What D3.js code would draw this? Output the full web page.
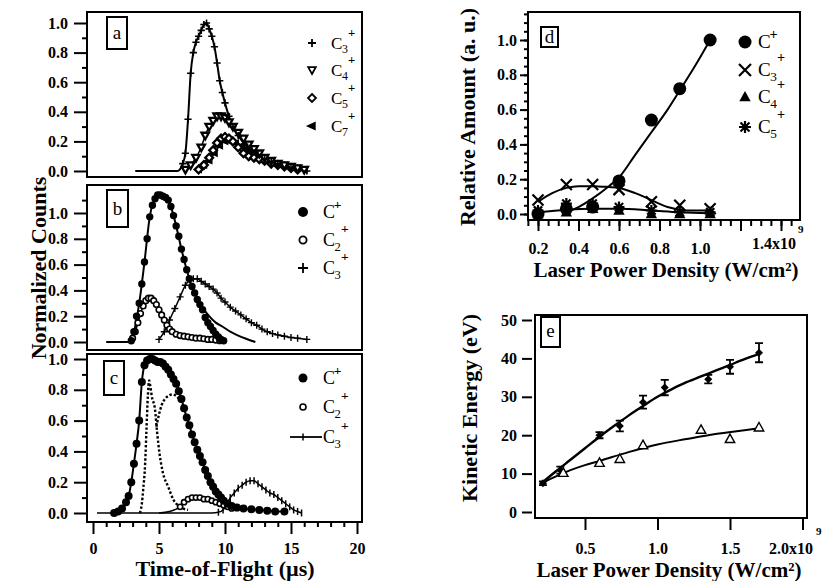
<!DOCTYPE html>
<html>
<head>
<meta charset="utf-8">
<script src="https://cdn.jsdelivr.net/npm/d3@7"></script>
<style>
  body { margin: 0; background: #fff; }
  svg { display: block; }
  text { font-family: "Liberation Serif", "Tinos", "DejaVu Serif", "Noto Serif", serif; fill: #000; }
</style>
</head>
<body>
<svg id="fig" width="828" height="581"></svg>
<script>
// ---- panel a : time-of-flight, C3+ C4+ C5+ C7+ ----
const aC3t = [3.2, 5.0, 6.4, 6.8, 7.0, 7.2, 7.4, 7.6, 7.8, 8.0, 8.2, 8.4, 8.6, 8.8, 9.0, 9.2, 9.4, 9.6, 9.8, 10.0, 10.3, 10.6, 11.0, 11.5, 12.0, 12.5, 13.0, 13.5, 14.0, 15.0, 16.2];
const aC3v = [0, 0, 0, 0.05, 0.12, 0.35, 0.66, 0.8, 0.87, 0.91, 0.95, 0.99, 1.0, 0.96, 0.91, 0.84, 0.73, 0.61, 0.53, 0.46, 0.37, 0.3, 0.24, 0.18, 0.14, 0.11, 0.08, 0.06, 0.05, 0.02, 0.0];
const aC4t = [7.0, 7.4, 7.8, 8.2, 8.5, 8.8, 9.1, 9.4, 9.7, 10.0, 10.3, 10.6, 11.0, 11.4, 11.8, 12.2, 12.6, 13.0, 13.5, 14.0, 14.5, 15.0, 15.5, 16.0];
const aC4v = [0.01, 0.04, 0.09, 0.16, 0.24, 0.3, 0.34, 0.37, 0.37, 0.36, 0.33, 0.3, 0.26, 0.22, 0.18, 0.15, 0.12, 0.09, 0.07, 0.05, 0.04, 0.03, 0.02, 0.01];
const aC5t = [8.0, 8.4, 8.8, 9.1, 9.4, 9.7, 10.0, 10.3, 10.6, 11.0, 11.4, 11.8, 12.2, 12.6, 13.0, 13.5, 14.0, 14.5, 15.0, 15.5];
const aC5v = [0.01, 0.04, 0.09, 0.14, 0.19, 0.22, 0.23, 0.22, 0.2, 0.16, 0.12, 0.1, 0.09, 0.08, 0.07, 0.05, 0.04, 0.03, 0.02, 0.01];
const aC7t = [8.0, 8.4, 8.8, 9.2, 9.6, 10.0, 10.4, 10.8, 11.2, 11.6, 12.0, 12.5, 13.0, 13.5, 14.0, 14.5, 15.0, 15.5, 16.0];
const aC7v = [0.01, 0.04, 0.07, 0.12, 0.17, 0.2, 0.2, 0.19, 0.17, 0.15, 0.13, 0.11, 0.09, 0.07, 0.05, 0.04, 0.03, 0.02, 0.01];

// ---- panel b : C+ C2+ C3+ ----
const bC1t = [2.9, 3.1, 3.3, 3.5, 3.7, 3.9, 4.1, 4.3, 4.5, 4.7, 4.9, 5.1, 5.3, 5.5, 5.7, 5.9, 6.1, 6.3, 6.5, 6.7, 6.9, 7.1, 7.3, 7.5, 7.7, 7.9, 8.1, 8.3, 8.5, 8.7, 8.9, 9.1, 9.3, 9.5, 9.7, 9.9];
const bC1v = [0.01, 0.08, 0.2, 0.3, 0.45, 0.62, 0.8, 0.97, 1.06, 1.11, 1.14, 1.14, 1.13, 1.12, 1.1, 1.05, 0.98, 0.9, 0.82, 0.72, 0.64, 0.56, 0.49, 0.43, 0.38, 0.33, 0.29, 0.25, 0.19, 0.15, 0.12, 0.09, 0.06, 0.04, 0.02, 0.01];
const bC1fitT = [1.0, 2.8, 3.1, 3.5, 3.9, 4.3, 4.7, 5.1, 5.5, 5.9, 6.3, 6.7, 7.1, 7.5, 7.9, 8.3, 8.8, 9.3, 9.8, 10.4, 11.0, 11.6, 12.3];
const bC1fitV = [0, 0, 0.08, 0.3, 0.62, 0.97, 1.11, 1.14, 1.12, 1.05, 0.9, 0.72, 0.56, 0.43, 0.34, 0.27, 0.2, 0.15, 0.12, 0.08, 0.05, 0.025, 0.0];
const bC2t = [3.0, 3.2, 3.4, 3.6, 3.8, 4.0, 4.2, 4.4, 4.6, 4.8, 5.0, 5.2, 5.4, 5.6, 5.8, 6.0, 6.3, 6.6, 6.9, 7.2, 7.5, 7.8, 8.1, 8.4, 8.7, 9.0, 9.3, 9.6];
const bC2v = [0.03, 0.08, 0.15, 0.22, 0.28, 0.32, 0.34, 0.34, 0.32, 0.29, 0.25, 0.21, 0.17, 0.13, 0.1, 0.08, 0.06, 0.05, 0.045, 0.04, 0.035, 0.03, 0.03, 0.025, 0.02, 0.02, 0.015, 0.01];
const bC3t = [5.0, 5.4, 5.8, 6.2, 6.6, 7.0, 7.3, 7.6, 7.9, 8.2, 8.5, 8.8, 9.1, 9.4, 9.7, 10.0, 10.4, 10.8, 11.2, 11.6, 12.0, 12.4, 12.8, 13.2, 13.6, 14.0, 14.5, 15.0, 15.5, 16.2];
const bC3v = [0.02, 0.08, 0.17, 0.26, 0.35, 0.44, 0.48, 0.49, 0.49, 0.47, 0.45, 0.43, 0.41, 0.38, 0.34, 0.31, 0.27, 0.24, 0.21, 0.18, 0.15, 0.13, 0.1, 0.08, 0.065, 0.055, 0.045, 0.035, 0.03, 0.02];

// ---- panel c : C+ C2+ C3+ and two dotted traces ----
const cC1t = [1.6, 1.9, 2.2, 2.5, 2.7, 2.9, 3.1, 3.3, 3.5, 3.7, 3.9, 4.1, 4.3, 4.5, 4.7, 4.9, 5.1, 5.3, 5.5, 5.7, 5.9, 6.1, 6.3, 6.5, 6.7, 6.9, 7.1, 7.3, 7.5, 7.7, 7.9, 8.1, 8.3, 8.5, 8.7, 8.9, 9.1, 9.3, 9.5, 9.7, 9.9, 10.2, 10.5, 10.9, 11.4, 12.0, 12.6, 13.2, 13.8, 14.5];
const cC1v = [0.0, 0.01, 0.03, 0.07, 0.11, 0.2, 0.32, 0.45, 0.6, 0.85, 0.96, 0.99, 1.0, 1.0, 0.99, 0.98, 0.98, 0.97, 0.95, 0.93, 0.9, 0.87, 0.84, 0.79, 0.74, 0.68, 0.62, 0.57, 0.51, 0.46, 0.41, 0.37, 0.33, 0.28, 0.24, 0.2, 0.17, 0.14, 0.12, 0.1, 0.08, 0.06, 0.045, 0.035, 0.03, 0.025, 0.02, 0.015, 0.01, 0.01];
const cC2t = [5.0, 5.8, 6.3, 6.6, 6.9, 7.2, 7.5, 7.8, 8.1, 8.4, 8.7, 9.0, 9.3, 9.6, 9.9, 10.2, 10.5];
const cC2v = [0.0, 0.01, 0.025, 0.04, 0.07, 0.09, 0.1, 0.1, 0.1, 0.09, 0.09, 0.08, 0.07, 0.06, 0.05, 0.04, 0.03];
const cC3t = [0.3, 9.0, 9.5, 9.85, 10.1, 10.4, 10.7, 11.0, 11.3, 11.6, 11.9, 12.2, 12.5, 12.8, 13.1, 13.4, 13.7, 14.0, 14.3, 14.6, 14.9, 15.2, 15.5, 15.8];
const cC3v = [0, 0, 0.005, 0.02, 0.05, 0.1, 0.13, 0.16, 0.18, 0.2, 0.21, 0.21, 0.19, 0.17, 0.15, 0.13, 0.12, 0.1, 0.08, 0.06, 0.04, 0.02, 0.01, 0.0];
const cDot1t = [3.55, 3.7, 3.8, 3.95, 4.05, 4.15, 4.25, 4.35, 4.45, 4.7, 4.85, 5.05, 5.3, 5.7, 6.1, 6.6, 7.2];
const cDot1v = [0.0, 0.06, 0.15, 0.32, 0.54, 0.75, 0.86, 0.82, 0.76, 0.67, 0.53, 0.38, 0.26, 0.17, 0.085, 0.04, 0.02];
const cDot2t = [4.8, 5.0, 5.2, 5.45, 5.7, 6.0, 6.3, 6.6, 6.85];
const cDot2v = [0.56, 0.64, 0.7, 0.74, 0.76, 0.77, 0.76, 0.73, 0.69];

// ---- panel d : relative amount vs power density ----
const dPower = [0.2, 0.34, 0.47, 0.6, 0.76, 0.9, 1.05];
const dC1 = [0.0, 0.03, 0.04, 0.19, 0.54, 0.72, 1.0];
const dC3 = [0.08, 0.17, 0.17, 0.14, 0.07, 0.05, 0.03];
const dC4 = [0.0, 0.01, 0.03, 0.02, 0.0, 0.0, 0.0];
const dC5 = [0.02, 0.06, 0.06, 0.04, 0.02, 0.01, 0.01];
const dC1fitX = [0.34, 0.4, 0.47, 0.55, 0.6, 0.68, 0.76, 0.84, 0.9, 0.97, 1.05];
const dC1fitY = [0.01, 0.04, 0.09, 0.16, 0.21, 0.34, 0.47, 0.6, 0.71, 0.84, 1.0];
const dC3fitX = [0.2, 0.27, 0.34, 0.4, 0.47, 0.55, 0.6, 0.68, 0.76, 0.84, 0.9, 0.97, 1.05];
const dC3fitY = [0.07, 0.12, 0.15, 0.16, 0.16, 0.155, 0.15, 0.12, 0.08, 0.04, 0.025, 0.02, 0.02];
const dC5fitX = [0.2, 0.34, 0.47, 0.6, 0.76, 0.9, 1.05];
const dC5fitY = [0.01, 0.025, 0.03, 0.03, 0.02, 0.01, 0.005];

// ---- panel e : kinetic energy vs power density ----
const e1x = [0.21, 0.33, 0.6, 0.74, 0.9, 1.05, 1.35, 1.5, 1.7];
const e1y = [7.5, 10.9, 20, 22.4, 28.6, 32.4, 34.6, 37.8, 41.5];
const e1err = [0.5, 0.9, 0.8, 1.4, 1.7, 2.0, 1.1, 1.8, 2.5];
const e2x = [0.35, 0.6, 0.74, 0.9, 1.3, 1.5, 1.7];
const e2y = [10.2, 12.8, 13.8, 17.4, 21.4, 19, 22];
const e1fitX = [0.2, 0.3, 0.4, 0.5, 0.6, 0.7, 0.8, 0.9, 1.0, 1.1, 1.2, 1.3, 1.4, 1.5, 1.6, 1.7];
const e1fitY = [7.5, 10.6, 13.6, 16.6, 19.6, 22.4, 25.1, 27.6, 30, 32, 33.8, 35.3, 36.8, 38.3, 39.8, 41.2];
const e2fitX = [0.2, 0.3, 0.4, 0.5, 0.6, 0.8, 1.0, 1.2, 1.4, 1.6, 1.7];
const e2fitY = [7.5, 9.3, 10.9, 12.2, 13.3, 15.6, 17.6, 19.0, 20.3, 21.3, 21.8];

// legend subscripts ("" = bare C+)
const legA = ["3", "4", "5", "7"];
const legB = ["", "2", "3"];
const legC = ["", "2", "3"];
const legD = ["", "3", "4", "5"];

const FONT = "Liberation Serif, Tinos, DejaVu Serif, Noto Serif, serif";
const TICK = 16;
const svg = d3.select("#fig");
const px = d3.scaleIdentity();

const tof = d3.scaleLinear().domain([0, 20]).range([93, 357]);
const yA = d3.scaleLinear().domain([0, 1]).range([171, 23]);
const yB = d3.scaleLinear().domain([0, 1]).range([342, 213]);
const yC = d3.scaleLinear().domain([0, 1]).range([513, 359]);
const xD = d3.scaleLinear().domain([0.2, 1.4]).range([538, 781]);
const yD = d3.scaleLinear().domain([0, 1]).range([214, 40]);
const xE = d3.scaleLinear().domain([0, 2]).range([512.5, 802.5]);
const yE = d3.scaleLinear().domain([0, 50]).range([512, 320]);

const shapes = {
  plus: s => `M${-s},0H${s}M0,${-s}V${s}`,
  cross: s => `M${-s},${-s}L${s},${s}M${-s},${s}L${s},${-s}`,
  star: s => `M${-s},0H${s}M0,${-s}V${s}M${-s * 0.75},${-s * 0.75}L${s * 0.75},${s * 0.75}M${-s * 0.75},${s * 0.75}L${s * 0.75},${-s * 0.75}`,
  tick: s => `M0,${-s}V${s}`,
  triUp: s => `M0,${-s}L${s * 0.95},${s * 0.7}L${-s * 0.95},${s * 0.7}Z`,
  triDown: s => `M0,${s}L${s * 0.95},${-s * 0.7}L${-s * 0.95},${-s * 0.7}Z`,
  triLeft: s => `M${-s},0L${s * 0.7},${-s * 0.75}L${s * 0.7},${s * 0.75}Z`,
  diamond: s => `M0,${-s}L${s},0L0,${s}L${-s},0Z`,
  circle: s => d3.symbol(d3.symbolCircle, Math.PI * s * s)()
};

function txt(x, y, s, size, o = {}) {
  return svg.append("text").attr("x", x).attr("y", y)
    .attr("font-family", FONT).attr("font-size", size)
    .attr("font-weight", o.bold ? "bold" : "normal")
    .attr("text-anchor", o.anchor || "start")
    .attr("transform", o.rot ? `rotate(-90,${x},${y})` : null)
    .text(s);
}

function drawLine(sx, sy, xs, ys, w, dash) {
  svg.append("path")
    .datum(xs.map((x, i) => [x, ys[i]]))
    .attr("fill", "none")
    .attr("stroke", "#000")
    .attr("stroke-width", w)
    .attr("stroke-dasharray", dash || null)
    .attr("stroke-linejoin", "round")
    .attr("d", d3.line().x(d => sx(d[0])).y(d => sy(d[1])).curve(d3.curveMonotoneX));
}

function drawMarks(sx, sy, xs, ys, shape, s, fill, sw) {
  svg.append("g").selectAll("path")
    .data(xs.map((x, i) => [x, ys[i]]))
    .join("path")
    .attr("transform", d => `translate(${sx(d[0])},${sy(d[1])})`)
    .attr("d", shapes[shape](s))
    .attr("fill", fill)
    .attr("stroke", sw ? "#000" : "none")
    .attr("stroke-width", sw || 0);
}

function frame(x, y, w, h) {
  svg.append("rect").attr("x", x).attr("y", y).attr("width", w).attr("height", h)
    .attr("fill", "none").attr("stroke", "#000").attr("stroke-width", 2);
}

function tag(x, y, w, h, letter, base) {
  frame(x, y, w, h);
  txt(x + w / 2, base, letter, 19, { anchor: "middle" });
}

function ion(x, y, sub, size) {
  txt(x, y, "C", size);
  if (sub) {
    txt(x + size * 0.64, y + size * 0.25, sub, size * 0.7);
    txt(x + size * 1.0, y - size * 0.72, "+", size * 0.75, { bold: true });
  } else {
    txt(x + size * 0.6, y - size * 0.48, "+", size * 0.75, { bold: true });
  }
}

function styleAxis(g, size) {
  g.attr("font-family", FONT);
  g.select(".domain").remove();
  g.selectAll("line").attr("stroke", "#000").attr("stroke-width", 2);
  g.selectAll("text").attr("font-family", FONT).attr("font-weight", "bold")
    .attr("font-size", size).attr("fill", "#000");
}

function leftAxis(x, y, major, minor, big, small, pad, fmt) {
  styleAxis(svg.append("g").attr("transform", `translate(${x},0)`)
    .call(d3.axisLeft(y).tickValues(minor).tickSize(small).tickFormat("")), TICK);
  styleAxis(svg.append("g").attr("transform", `translate(${x},0)`)
    .call(d3.axisLeft(y).tickValues(major).tickSize(big).tickPadding(pad).tickFormat(fmt)), TICK);
}

function bottomAxis(y, x, major, minor, big, small, pad, fmt) {
  styleAxis(svg.append("g").attr("transform", `translate(0,${y})`)
    .call(d3.axisBottom(x).tickValues(minor).tickSize(small).tickFormat("")), TICK);
  styleAxis(svg.append("g").attr("transform", `translate(0,${y})`)
    .call(d3.axisBottom(x).tickValues(major).tickSize(big).tickPadding(pad).tickFormat(fmt)), TICK);
}

function title(x, y, s, size, rot) {
  txt(x, y, s, size, { bold: true, anchor: "middle", rot: rot });
}

const f1 = d3.format(".1f");
const major01 = [0, 0.2, 0.4, 0.6, 0.8, 1.0];
const minor01 = [0.1, 0.3, 0.5, 0.7, 0.9];

// ============ left column ============
frame(87, 12, 275, 165);
frame(87, 185, 275, 165);
frame(87, 354, 275, 168);
leftAxis(87, yA, major01, minor01, 13, 5, 6, f1);
leftAxis(87, yB, major01, minor01.concat([1.1]), 13, 5, 6, f1);
leftAxis(87, yC, major01, minor01, 13, 5, 6, f1);
bottomAxis(522, tof, [0, 5, 10, 15, 20], d3.range(1, 20).filter(v => v % 5), 12, 5, 9, d3.format("d"));
title(46, 268, "Normalized Counts", 22, true);
title(225, 576, "Time-of-Flight (µs)", 22);

// panel a
drawLine(tof, yA, aC7t, aC7v, 1.5);
drawLine(tof, yA, aC5t, aC5v, 1.5);
drawLine(tof, yA, aC4t, aC4v, 1.5);
drawLine(tof, yA, aC3t, aC3v, 2);
drawMarks(tof, yA, aC7t, aC7v, "triLeft", 3.8, "#000", 1.4);
drawMarks(tof, yA, aC5t, aC5v, "diamond", 3.9, "#fff", 2.3);
drawMarks(tof, yA, aC4t, aC4v, "triDown", 3.9, "#fff", 2.3);
drawMarks(tof, yA, aC3t.slice(3), aC3v.slice(3), "plus", 3.6, "none", 1.6);
tag(107, 17, 20, 32, "a", 39);
legA.forEach((s, i) => {
  const y = [43, 70, 98, 126][i];
  const shp = ["plus", "triDown", "diamond", "triLeft"][i];
  drawMarks(px, px, [312], [y], shp, 4, shp === "triLeft" ? "#000" : "#fff", 1.8);
  ion(331, y + 6, s, 17);
});

// panel b
drawLine(tof, yB, bC3t, bC3v, 1.5);
drawLine(tof, yB, bC2t, bC2v, 1.5);
drawLine(tof, yB, bC1fitT, bC1fitV, 2);
drawMarks(tof, yB, bC3t, bC3v, "plus", 3.5, "none", 1.4);
drawMarks(tof, yB, bC2t, bC2v, "circle", 2.8, "#fff", 1.6);
drawMarks(tof, yB, bC1t, bC1v, "circle", 3.7, "#000", 0);
tag(107, 190, 21, 37, "b", 215);
legB.forEach((s, i) => {
  const y = [212, 240, 268][i];
  if (i === 0) drawMarks(px, px, [303], [y], "circle", 5, "#000", 0);
  if (i === 1) drawMarks(px, px, [303], [y], "circle", 3.6, "#fff", 1.8);
  if (i === 2) drawMarks(px, px, [303], [y], "plus", 5, "none", 1.8);
  ion(323, y + 6, s, 18);
});

// panel c
drawLine(tof, yC, cC3t, cC3v, 1.5);
drawLine(tof, yC, cC2t, cC2v, 1.5);
drawLine(tof, yC, cDot1t, cDot1v, 2.4, "2.4,2");
drawLine(tof, yC, cDot2t, cDot2v, 2.4, "2.4,2");
drawLine(tof, yC, cC1t, cC1v, 2);
drawMarks(tof, yC, cC3t.slice(2), cC3v.slice(2), "tick", 3.5, "none", 1.5);
drawMarks(tof, yC, cC2t.slice(3), cC2v.slice(3), "circle", 2.6, "#fff", 1.6);
drawMarks(tof, yC, cC1t, cC1v, "circle", 4, "#000", 0);
tag(104, 361, 20, 34, "c", 384);
legC.forEach((s, i) => {
  const y = [378, 407, 437][i];
  if (i === 0) drawMarks(px, px, [303], [y], "circle", 4.5, "#000", 0);
  if (i === 1) drawMarks(px, px, [303], [y], "circle", 3, "#fff", 1.6);
  if (i === 2) {
    drawLine(px, px, [290, 322], [y, y], 1.8);
    drawMarks(px, px, [303], [y], "tick", 3.5, "none", 1.5);
  }
  ion(323, y + 6, s, 18);
});

// ============ panel d ============
frame(528, 12, 272, 208);
leftAxis(528, yD, major01, d3.range(0, 1.16, 0.05), 8, 4, 3, f1);
bottomAxis(221, xD, [0.2, 0.4, 0.6, 0.8, 1.0, 1.2, 1.4], d3.range(0.15, 1.46, 0.05), 10, 5, 12,
  v => (v > 1.1 ? "" : f1(v)));
txt(796, 249, "1.4x10", TICK, { bold: true, anchor: "end" });
txt(798, 233, "9", 11, { bold: true });
title(666, 277, "Laser Power Density (W/cm²)", 21);
title(475, 117, "Relative Amount (a. u.)", 22, true);

drawLine(xD, yD, dC5fitX, dC5fitY, 2);
drawLine(xD, yD, dC3fitX, dC3fitY, 2);
drawLine(xD, yD, dC1fitX, dC1fitY, 2);
drawMarks(xD, yD, dPower, dC4, "triUp", 6, "#000", 0);
drawMarks(xD, yD, dPower, dC5, "star", 5.5, "none", 2.2);
drawMarks(xD, yD, dPower, dC3, "cross", 5.5, "none", 2.2);
drawMarks(xD, yD, dPower, dC1, "circle", 6.5, "#000", 0);
tag(541, 27, 17, 20, "d", 43);
legD.forEach((s, i) => {
  const y = [42, 70, 97, 127][i];
  const shp = ["circle", "cross", "triUp", "star"][i];
  const fill = (shp === "circle" || shp === "triUp") ? "#000" : "none";
  drawMarks(px, px, [745], [y], shp, shp === "circle" ? 6.5 : 6, fill, fill === "none" ? 2.2 : 0);
  ion(758, y + 6, s, 19);
});

// ============ panel e ============
frame(535, 315, 272, 203);
leftAxis(532, yE, [0, 10, 20, 30, 40, 50], [], 10, 0, 5, d3.format("d"));
bottomAxis(518, xE, [0.5, 1.0, 1.5, 2.0], [], 12, 0, 13, v => (v > 1.9 ? "" : f1(v)));
txt(813, 554, "2.0x10", TICK, { bold: true, anchor: "end" });
txt(816, 535, "9", 11, { bold: true });
title(669, 577, "Laser Power Density (W/cm²)", 21);
title(477, 408, "Kinetic Energy (eV)", 22, true);

drawLine(xE, yE, e2fitX, e2fitY, 2);
drawLine(xE, yE, e1fitX, e1fitY, 2.4);
svg.append("g").selectAll("path")
  .data(e1x.map((x, i) => [x, e1y[i], e1err[i]]))
  .join("path")
  .attr("d", d => {
    const x = xE(d[0]), y0 = yE(d[1] - d[2]), y1 = yE(d[1] + d[2]);
    return `M${x},${y0}V${y1}M${x - 4},${y0}H${x + 4}M${x - 4},${y1}H${x + 4}`;
  })
  .attr("stroke", "#000").attr("stroke-width", 1.8).attr("fill", "none");
drawMarks(xE, yE, e1x, e1y, "diamond", 4, "#000", 0);
drawMarks(xE, yE, e2x, e2y, "triUp", 5, "#fff", 1.4);
tag(541, 317, 19, 30, "e", 337);
</script>
</body>
</html>
